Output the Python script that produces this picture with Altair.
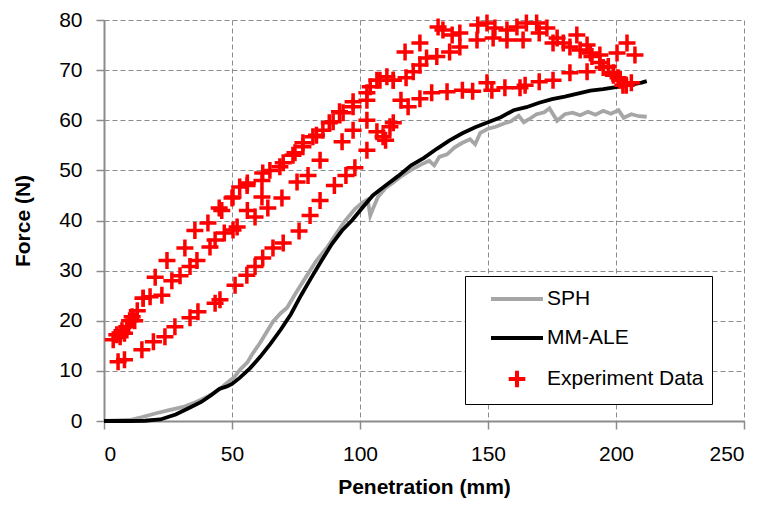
import altair as alt
import pandas as pd

# ---- simulation curves ----
sph_x = [0, 10, 15, 20, 25, 31, 36, 41, 45, 48, 51, 53, 56, 58, 61, 63, 66, 69, 71.5, 75, 79, 83, 87, 90, 94, 98,
         101, 103, 104, 105, 107, 110, 113, 116, 120, 124, 127, 129, 131, 134, 137, 140, 143, 145, 147, 150, 153,
         156, 159, 162, 164, 166, 169, 172, 174, 177, 180, 183, 186, 189, 192, 195, 198, 201, 203, 206, 209, 212]
sph_y = [0, 0.2, 0.8, 1.5, 2.1, 2.8, 3.8, 5.0, 6.3, 7.6, 8.8, 10.2, 11.7, 13.4, 15.6, 17.3, 19.8, 21.5, 22.6, 25.6,
         28.8, 32, 34.5, 36.8, 39.8, 42.3, 43.6, 44.2, 41.0, 42.3, 44.7, 46.5, 47.6, 48.8, 50.1, 51.2, 51.9, 51.0,
         52.7, 53.2, 54.6, 55.5, 56.2, 55.2, 57.5, 58.3, 58.7, 59.3, 59.8, 60.9, 59.6, 60.2, 61.2, 61.6, 62.4, 59.9,
         61.2, 61.5, 61.0, 61.7, 61.1, 61.9, 61.3, 62.0, 60.5, 61.2, 60.8, 60.7]

ale_x = [0, 10, 16, 22, 28, 34, 38, 42, 45, 48, 50, 53, 57, 61, 65, 69, 73, 77, 81, 85, 89, 93, 97, 101, 105, 110,
         115, 120, 125, 130, 135, 140, 145, 150, 155, 160, 165, 170, 175, 180, 185, 190, 195, 200, 205, 210, 212]
ale_y = [0, 0, 0.05, 0.3, 1.3, 2.8, 3.8, 5.2, 6.4, 6.9, 7.4, 8.6, 10.5, 12.8, 15.4, 18.2, 21.3, 25.1, 28.6, 32, 35.3,
         38, 40.1, 42.6, 45, 47, 48.9, 51, 52.5, 54.3, 56, 57.4, 58.6, 59.6, 60.6, 62, 62.6, 63.5, 64.2, 64.7, 65.3,
         65.9, 66.2, 66.6, 67, 67.5, 67.8]

# ---- experiment runs ----
exp1_x = [3.6, 6.3, 8.9, 11, 15.3, 20, 24.6, 31.6, 35.5, 40.6, 46, 50.4, 55.9, 61.7, 64.8, 70, 73.8, 77.7, 81.6,
          85.5, 89.5, 93.4, 97.3, 102.7, 104, 106.6, 110.5, 113, 117.6, 123.4, 130.5, 132.4, 136, 139, 146, 149.6,
          152.7, 157.4, 161.3, 165, 169, 173, 177, 179.4, 184.7, 188.7, 190, 193.7, 200.4, 204.3, 207.4]
exp1_y = [16.2, 16.8, 18.8, 20.8, 24.5, 28.7, 32, 34.5, 38, 39.5, 42, 44.7, 47, 48, 50, 51.5, 53, 55.5, 56.7, 58,
          59.7, 61.5, 62.7, 64, 66.7, 68, 68.7, 68, 73.6, 75.4, 78.6, 78, 77, 77.4, 79, 79.4, 78.4, 78, 78.6, 79.4,
          79.4, 78.4, 76.4, 75.4, 77, 75, 73.4, 73, 73.4, 75.4, 73]

exp2_x = [5, 7, 10, 13, 45, 50, 53, 56, 62, 68.7, 74.6, 77.7, 83, 88, 92, 97.3, 102.7, 107.8, 113, 118, 120.8, 123.4,
          126, 130, 135, 139, 145.7, 152, 157.4, 163.7, 170, 175.4, 182, 186, 190.6, 193.7, 197, 199, 200.8, 202.7]
exp2_y = [17.2, 18, 20, 22, 42.5, 44.5, 46.7, 47.5, 49.5, 50.7, 53.5, 54.7, 57, 59.5, 61.7, 63.7, 65.5, 68, 68, 68.5,
          69.7, 71, 72.4, 72.7, 73.6, 74.6, 76, 76.4, 76, 76, 77.4, 75.4, 74.6, 74, 72.7, 71.5, 70.7, 69.5, 68.5, 67]

exp3_x = [8, 12, 15.3, 18, 22.6, 26.5, 29.7, 33.6, 36.3, 41.4, 43.4, 47, 50.4, 52, 56, 59, 61.7, 64, 69.5, 75.4,
          79.7, 84.4, 93, 97.3, 102.7, 106.6, 110, 113, 116]
exp3_y = [17.5, 20, 24.5, 24.8, 25.1, 28, 29, 30.8, 32, 34.7, 36.1, 37.5, 38.1, 38.7, 42, 40.7, 44.7, 42.5, 44.5,
          47.7, 49, 52, 55.7, 58, 60, 57.7, 56, 59.5, 64]

exp4_x = [5.5, 8, 14.8, 19.3, 23.8, 27.7, 33.6, 36.7, 43.4, 45.3, 51.2, 55.8, 59, 62, 66, 70, 76.2, 80.5, 84.4, 90,
          94.5, 98, 102.7, 109, 111.7, 118.8, 123.4, 128, 134, 140, 144, 149.6, 151.5, 156.6, 162.5, 164.5, 170,
          175.4, 182, 188.7, 195, 199, 201.5, 204, 206]
exp4_y = [11.8, 12.2, 14.2, 15.8, 16.8, 18.8, 20.6, 21.8, 23.5, 24.2, 27.1, 29.1, 30.8, 32.5, 34.5, 35.5, 37.9, 41,
          44, 47, 49, 50.5, 54, 56.7, 58.7, 62.7, 64.3, 65.5, 65.7, 66, 65.8, 67.5, 66, 66.5, 66.5, 67, 67.7, 68, 69.5,
          69.7, 70.5, 69, 68, 67, 67.5]

series_names = ["SPH", "MM-ALE", "Experiment Data"]
series_colors = ["#a6a6a6", "#000000", "#ff0000"]
x_ticks = [0, 50, 100, 150, 200, 250]
y_ticks = [0, 10, 20, 30, 40, 50, 60, 70, 80]

lines_df = pd.concat([
    pd.DataFrame({"x": sph_x, "y": sph_y, "series": "SPH", "order": range(len(sph_x))}),
    pd.DataFrame({"x": ale_x, "y": ale_y, "series": "MM-ALE", "order": range(len(ale_x))}),
])
exp_df = pd.concat([
    pd.DataFrame({"x": exp1_x, "y": exp1_y}),
    pd.DataFrame({"x": exp2_x, "y": exp2_y}),
    pd.DataFrame({"x": exp3_x, "y": exp3_y}),
    pd.DataFrame({"x": exp4_x, "y": exp4_y}),
])
exp_df["series"] = "Experiment Data"

FONT = "Liberation Sans"
GRIDC = "#8c8c8c"

xenc = alt.X("x:Q", scale=alt.Scale(domain=[0, 250], nice=False),
             axis=alt.Axis(values=x_ticks, title="Penetration (mm)"))
yenc = alt.Y("y:Q", scale=alt.Scale(domain=[0, 80], nice=False),
             axis=alt.Axis(values=y_ticks, title="Force (N)"))
color_scale = alt.Scale(domain=series_names, range=series_colors)
shape_scale = alt.Scale(domain=series_names,
                        range=["M-2,0H2", "M-2,0H2", "M-0.64,0H0.64M0,-0.64V0.64"])

lines = alt.Chart(lines_df).mark_line(strokeWidth=3.8).encode(
    x=xenc, y=yenc,
    color=alt.Color("series:N", scale=color_scale, legend=alt.Legend(title=None)),
    detail="series:N",
    order="order:Q",
)

points = alt.Chart(exp_df).mark_point(filled=False, strokeWidth=3.5, size=705, opacity=1).encode(
    x=xenc, y=yenc,
    color=alt.Color("series:N", scale=color_scale, legend=alt.Legend(title=None)),
    shape=alt.Shape("series:N", scale=shape_scale, legend=alt.Legend(title=None)),
)

chart = alt.layer(lines, points).properties(
    width=640, height=401,
    autosize=alt.AutoSizeParams(type="none"),
    padding={"left": 96, "top": 12, "right": 12, "bottom": 77},
).configure_view(strokeWidth=0).configure_axis(
    labelFont=FONT, labelFontSize=21, labelColor="#000000",
    titleFont=FONT, titleFontSize=21, titleFontWeight="bold", titleColor="#000000",
    grid=True, gridColor=GRIDC, gridDash=[5, 3], gridWidth=1,
    domainColor=GRIDC, domainWidth=2, tickColor=GRIDC, tickWidth=1.5, tickSize=8,
).configure_axisX(
    labelPadding=14, titlePadding=12,
).configure_axisY(
    labelPadding=14, titlePadding=25,
).configure_legend(
    orient="none", legendX=361, legendY=256,
    strokeColor="#000000", fillColor="#ffffff", padding=8, cornerRadius=0,
    labelFont=FONT, labelFontSize=21, labelColor="#000000", labelOffset=15,
    symbolSize=676, symbolStrokeWidth=4, symbolOffset=29, rowPadding=14,
)

chart.save("out.html", embed_options={"renderer": "svg", "actions": False})
